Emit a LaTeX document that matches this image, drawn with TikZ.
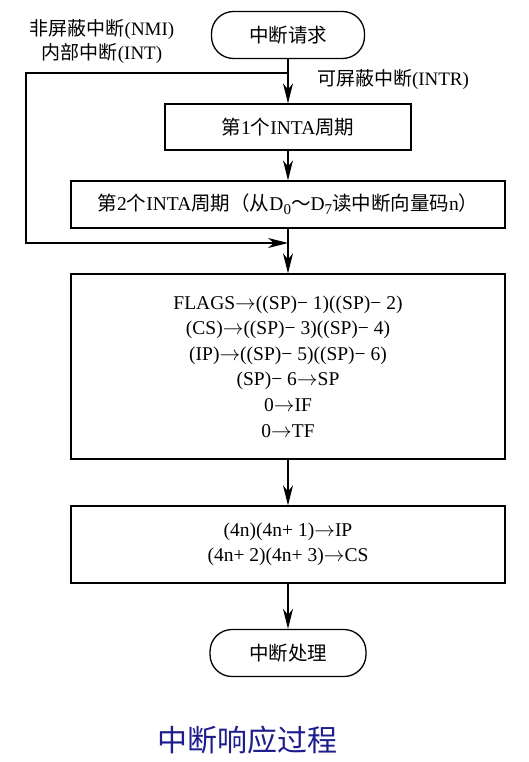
\documentclass[tikz,border=0pt]{standalone}
\usepackage{fontspec}
\setmainfont{Liberation Serif}
\newfontfamily\zhfont{Noto Sans CJK SC}
\newcommand\zh[1]{{\zhfont #1}}
\newcommand\tto{$\rightarrow$}
\newcommand\lowsub[1]{\raisebox{-0.45ex}{\fontsize{15}{15}\selectfont #1}}
\usetikzlibrary{arrows.meta}
\definecolor{capblue}{RGB}{30,30,140}
\begin{document}
\begin{tikzpicture}[x=1pt,y=-1pt,
  line width=1.3pt,
  flow/.style={-{Stealth[length=20pt,width=10pt,inset=6pt]}},
  procbox/.style={draw, rectangle, minimum width=434pt, align=center, font=\fontsize{19.5}{25.6}\selectfont},
  term/.style={draw, rectangle, rounded corners=22pt, minimum height=47pt, font=\fontsize{19.5}{23}\selectfont\zhfont},
  note/.style={font=\fontsize{19}{23}\selectfont}]
\useasboundingbox (0,0) rectangle (528,762);
\node[term, minimum width=153pt] (start) at (288,35){中断请求};
\node[note] (nmi) at (102,30){\zh{非屏蔽中断}(NMI)};
\node[note] (int) at (102,54){\zh{内部中断}(INT)};
\node[note] (intr) at (393,80){\zh{可屏蔽中断}(INTR)};
\node[procbox, minimum width=246pt, minimum height=46pt] (cyc1) at (288,127){\zh{第}1\zh{个}INTA\zh{周期}};
\node[procbox, minimum height=47pt] (cyc2) at (288,204.5){\zh{第}2\zh{个}INTA\zh{周期（从}D\lowsub{0}\zh{～}D\lowsub{7}\zh{读中断向量码}n\zh{）}};
\node[procbox, minimum height=185pt] (push) at (288,366.5){FLAGS\tto((SP)− 1)((SP)− 2)\\(CS)\tto((SP)− 3)((SP)− 4)\\(IP)\tto((SP)− 5)((SP)− 6)\\(SP)− 6\tto SP\\0\tto IF\\0\tto TF};
\node[procbox, minimum height=77pt] (vec) at (288,544.5){(4n)(4n+ 1)\tto IP\\(4n+ 2)(4n+ 3)\tto CS};
\node[term, minimum width=156pt] (isr) at (288,653){中断处理};
\node[font=\fontsize{30}{34}\selectfont\zhfont, text=capblue] (cap) at (247,740){中断响应过程};
\coordinate (tap) at (288,73);
\coordinate (lt) at (26,73);
\coordinate (lb) at (26,243);
\coordinate (merge) at (288,243);
\draw[flow](start) -- (cyc1);
\draw[flow](cyc1) -- (cyc2);
\draw[flow](cyc2) -- (push);
\draw[flow](push) -- (vec);
\draw[flow](vec) -- (isr);
\draw[flow](tap) -- (lt) -- (lb) -- (merge);
\end{tikzpicture}
\end{document}
